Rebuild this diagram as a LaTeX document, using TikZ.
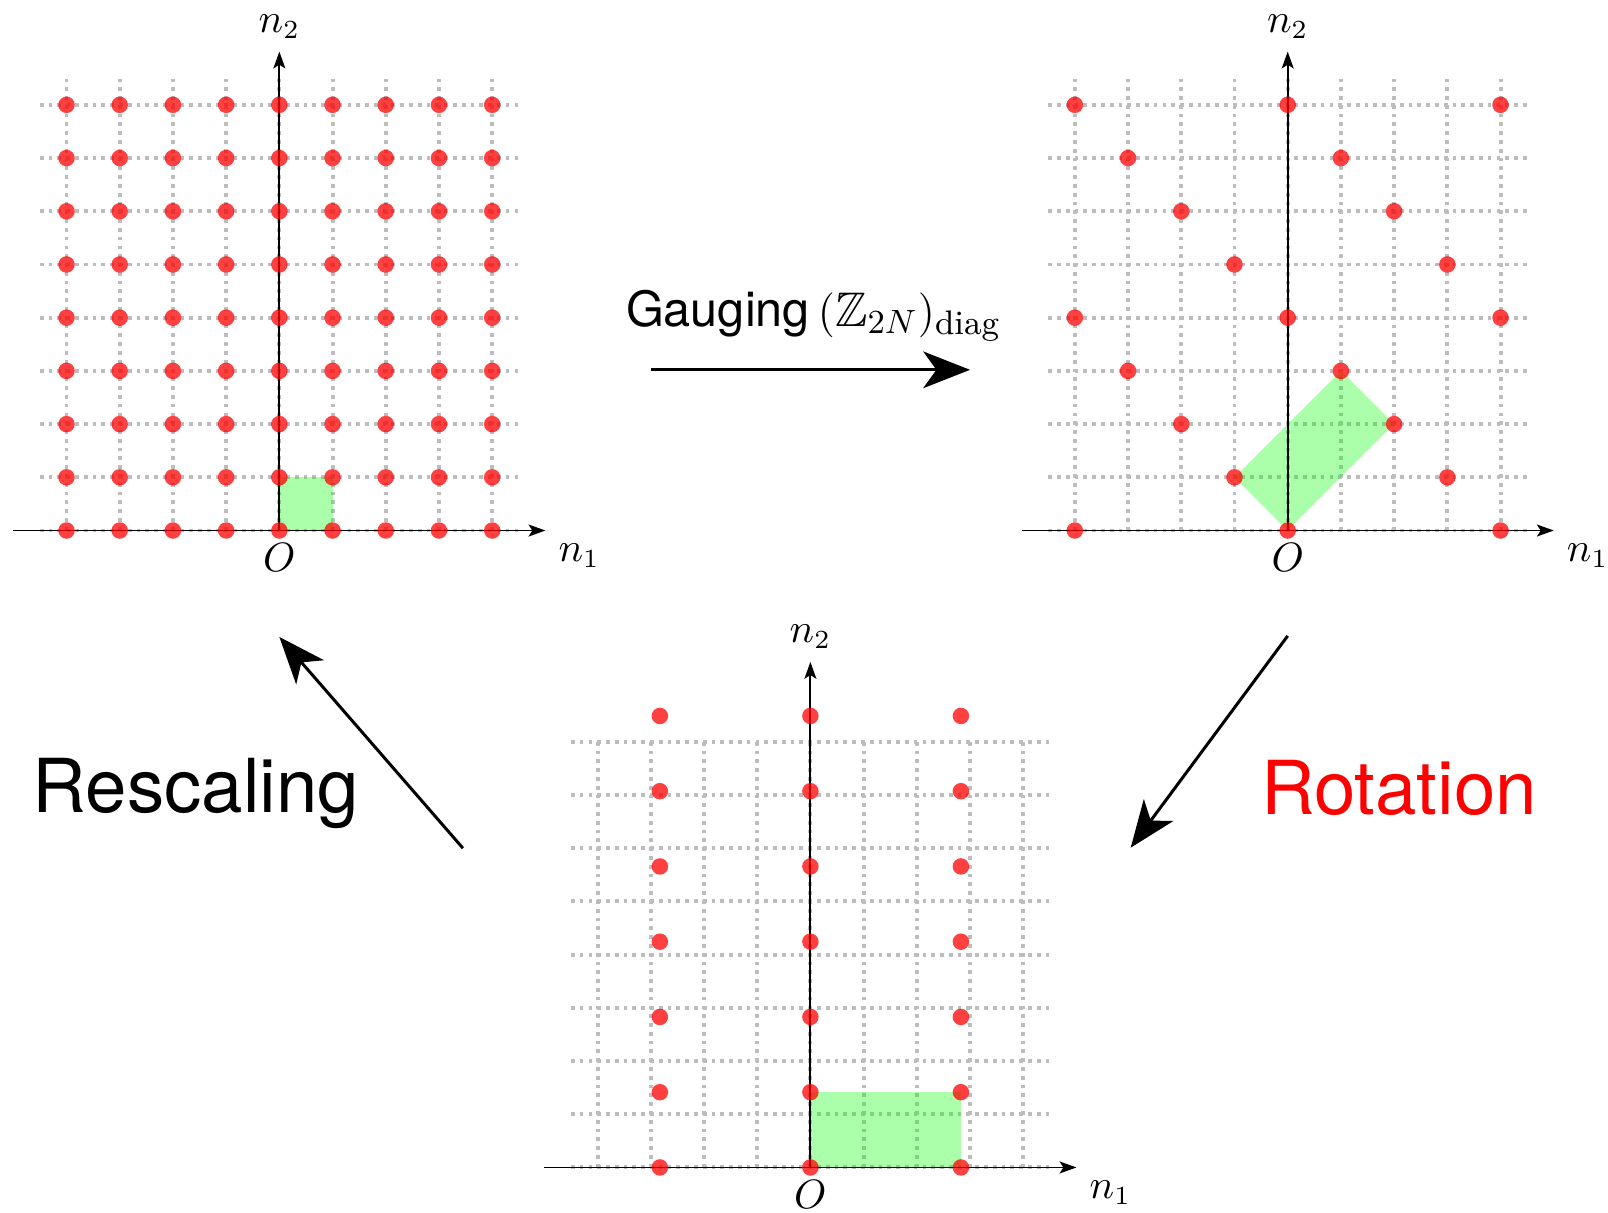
\documentclass[tikz,border=0pt]{standalone}
\usepackage{amssymb}
\usepackage{fontspec}
\setsansfont{TeX Gyre Heros}
\usetikzlibrary{arrows.meta}
\definecolor{dotRed}{HTML}{FF0000}
\definecolor{cellGreen}{HTML}{00FF00}
\definecolor{gridGray}{HTML}{BDBDBD}
\tikzset{
  gridG/.style={gridGray, line width=1.05pt, dash pattern=on 1pt off 1.35pt, step=0.5cm},
  axisA/.style={-{Stealth[length=4.5pt, width=3.2pt, inset=1pt]}, line width=0.5pt},
  dotR/.style={fill=dotRed, fill opacity=0.75},
  cellG/.style={fill=cellGreen, fill opacity=0.33},
  arrowBig/.style={-{Stealth[length=12.5pt, width=9.8pt, inset=3.5pt]}, line width=0.8pt},
  bigText/.style={font=\sffamily\fontsize{19.9}{24}\selectfont, anchor=base},
  axisLbl/.style={font=\fontsize{10.5}{12}\selectfont},
}

\begin{document}
\begin{tikzpicture}[x=0.5cm, y=0.5cm]
    \useasboundingbox (-5.25,-12.81) rectangle (24.97,9.97);

    % lattice before gauging (top left)
    \draw[gridG] (-4.5,0) grid (4.5,8.5);
    \fill[cellG] (0,0) rectangle (1,1);
    \draw[axisA] (-5,0) -- (5,0);
    \draw[axisA] (0,0) -- (0,9);
    \foreach \i in {-4,...,4}
      \foreach \j in {0,...,8}
        \fill[dotR] (\i,\j) circle (0.155);
    \node[axisLbl, anchor=north west] (aN1) at (5,0) {$n_1$};
    \node[axisLbl, anchor=south] (aN2) at (0,9) {$n_2$};
    \node[axisLbl, anchor=north] (aO) at (0,0) {$O$};

    % lattice after gauging (top right)
    \begin{scope}[shift={(18.95,0)}]
      \draw[gridG] (-4.5,0) grid (4.5,8.5);
      \fill[cellG] (0,0) -- (2,2) -- (1,3) -- (-1,1) -- cycle;
      \draw[axisA] (-5,0) -- (5,0);
      \draw[axisA] (0,0) -- (0,9);
      \foreach \i in {-4,...,4}
        \foreach \j in {0,...,8} {
          \pgfmathtruncatemacro\rest{mod(\i+\j+40,4)}
          \ifnum\rest=0 \fill[dotR] (\i,\j) circle (0.155); \fi
        }
      \node[axisLbl, anchor=north west] (bN1) at (5,0) {$n_1$};
      \node[axisLbl, anchor=south] (bN2) at (0,9) {$n_2$};
      \node[axisLbl, anchor=north] (bO) at (0,0) {$O$};
    \end{scope}

    % rotated lattice (bottom)
    \begin{scope}[shift={(9.98,-11.97)}]
      \draw[gridG] (-4.5,0) grid (4.5,8);
      \fill[cellG] (0,0) rectangle ({2*sqrt(2)},{sqrt(2)});
      \draw[axisA] (-5,0) -- (5,0);
      \draw[axisA] (0,0) -- (0,9.5);
      \foreach \k in {-1,0,1}
        \foreach \m in {0,...,6}
          \fill[dotR] ({2*sqrt(2)*\k},{sqrt(2)*\m}) circle (0.155);
      \node[axisLbl, anchor=north west] (cN1) at (5,0) {$n_1$};
      \node[axisLbl, anchor=south] (cN2) at (0,9.5) {$n_2$};
      \node[axisLbl, anchor=north] (cO) at (0,0) {$O$};
    \end{scope}

    % arrows between the panels
    \coordinate (gaugeA) at (6.98,3.02);
    \coordinate (gaugeB) at (12.98,3.02);
    \coordinate (rotA) at (18.95,-1.98);
    \coordinate (rotB) at (16,-5.96);
    \coordinate (scaleA) at (3.45,-5.97);
    \coordinate (scaleB) at (0,-2);
    \draw[arrowBig] (gaugeA) -- (gaugeB);
    \draw[arrowBig] (rotA) -- (rotB);
    \draw[arrowBig] (scaleA) -- (scaleB);

    \node[font=\fontsize{13}{15}\selectfont, anchor=base] (gaugeLbl) at (10.04,3.84)
      {\textsf{Gauging}\,$(\mathbb{Z}_{2N})_{\mathrm{diag}}$};
    \node[bigText] (scaleLbl) at (-1.57,-5.29) {Rescaling};
    \node[bigText, text=red] (rotLbl) at (21.04,-5.33) {Rotation};
\end{tikzpicture}
\end{document}
